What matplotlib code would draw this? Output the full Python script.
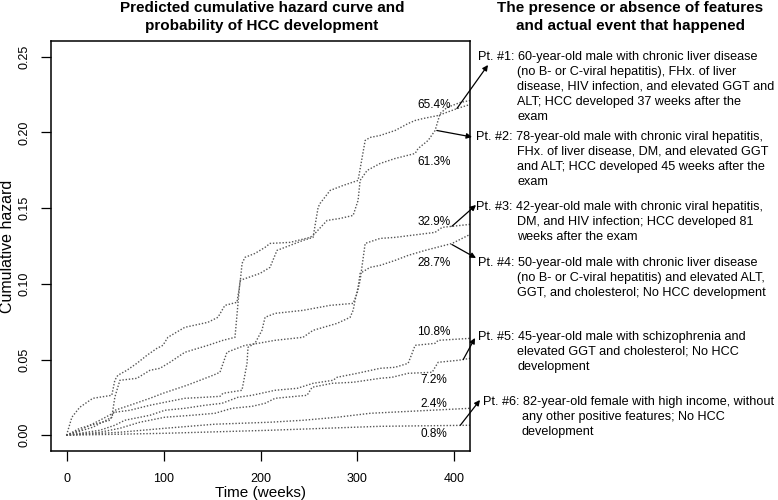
import numpy as np
import matplotlib.pyplot as plt

plt.rcParams['font.family'] = ['Liberation Sans', 'DejaVu Sans']

# predicted cumulative hazard per patient curve (weeks, hazard)
wk_a = [0, 27.1, 46.7, 49.8, 55, 72.5, 86, 96.3, 106.6, 122, 145.8, 161.3, 173.7, 178.9, 199.5, 209.8, 217,
        230.5, 243.9, 254.2, 259.4, 261.4, 271.8, 285.2, 300.6, 307.9, 313, 323.3, 338.8, 352.2, 359.4, 367.7,
        383.2, 402.8, 416.2]
hz_a = [0, 0.0053, 0.0119, 0.0251, 0.0363, 0.0376, 0.0429, 0.0442, 0.0482, 0.0548, 0.0594, 0.0627, 0.0647,
        0.1023, 0.1069, 0.1109, 0.1221, 0.1254, 0.1287, 0.1307, 0.1505, 0.1531, 0.1617, 0.165, 0.1683, 0.1947,
        0.1967, 0.198, 0.2013, 0.2059, 0.2079, 0.2092, 0.2112, 0.2158, 0.2185]

wk_b = [0, 5.5, 13.7, 27.1, 46.7, 49.8, 52.9, 62.2, 72.5, 82.9, 93.2, 99.4, 104.5, 122, 145.8, 156.1, 163.3,
        175.7, 178.9, 181, 184, 194.3, 204.7, 209.8, 230.5, 251.1, 254.2, 268.7, 282.1, 295.5, 300.6, 302.7,
        309.9, 323.3, 338.8, 359.4, 362.5, 372.8, 380, 385.2, 392.4, 405.9, 416.2]
hz_b = [0, 0.0119, 0.0185, 0.0244, 0.0264, 0.0363, 0.0396, 0.0429, 0.0475, 0.0528, 0.0574, 0.0594, 0.0647,
        0.0713, 0.0746, 0.0779, 0.0858, 0.0878, 0.1003, 0.1135, 0.1175, 0.1201, 0.1241, 0.1267, 0.1274, 0.1307,
        0.132, 0.1419, 0.1432, 0.1452, 0.1551, 0.1683, 0.1749, 0.1795, 0.1828, 0.1861, 0.1894, 0.1947, 0.2013,
        0.2125, 0.2165, 0.2198, 0.2211]

wk_c = [0, 13.7, 34.4, 49.8, 65.3, 86, 101.4, 122, 142.7, 158.2, 161.3, 180.9, 186.1, 187.1, 194.3, 201.5,
        204.7, 215, 243.9, 271.8, 295.5, 299.6, 302.7, 307.9, 323.3, 338.8, 380, 387.3, 416.2]
hz_c = [0, 0.0033, 0.0099, 0.0152, 0.0165, 0.0198, 0.0218, 0.0244, 0.0251, 0.0257, 0.0277, 0.0297, 0.0475,
        0.0581, 0.0607, 0.0693, 0.0779, 0.0805, 0.0825, 0.0858, 0.0871, 0.0937, 0.1023, 0.1267, 0.13, 0.1307,
        0.134, 0.1373, 0.1393]

wk_d = [0, 13.7, 29.2, 44.7, 49.8, 65.3, 86, 99.4, 124.1, 137.6, 151, 158.2, 165.4, 170.6, 184, 197.4, 215,
        243.9, 254.2, 279, 292.4, 295.5, 297.5, 300.6, 302.7, 313, 323.3, 338.8, 352.2, 369.7, 397.6, 416.2]
hz_d = [0, 0.0046, 0.0073, 0.0099, 0.0165, 0.0198, 0.0244, 0.0277, 0.033, 0.0363, 0.0396, 0.0416, 0.0548,
        0.0561, 0.0594, 0.0607, 0.0627, 0.0647, 0.0693, 0.0739, 0.0779, 0.0825, 0.0891, 0.0977, 0.1069, 0.1109,
        0.1122, 0.1155, 0.1188, 0.1221, 0.1267, 0.1327]

wk_e = [0, 34.4, 49.8, 60.1, 86, 101.4, 122, 142.7, 160.3, 176.8, 191.3, 215, 237.8, 254.2, 274.8, 279,
        299.6, 323.3, 338.8, 352.2, 356.3, 359.4, 380, 383.2, 416.2]
hz_e = [0, 0.0033, 0.0066, 0.0099, 0.0132, 0.0165, 0.0178, 0.0198, 0.0211, 0.0251, 0.0264, 0.0297, 0.031,
        0.0343, 0.0363, 0.0383, 0.0409, 0.0442, 0.0449, 0.0475, 0.0541, 0.0594, 0.0607, 0.0627, 0.064]

wk_f = [0, 34.4, 55, 75.6, 101.4, 129.3, 153, 170.6, 191.3, 204.7, 215, 248, 253.2, 273.8, 295.5, 323.3,
        335.7, 352.2, 377, 380, 383.2, 403.8, 416.2]
hz_f = [0, 0.002, 0.0046, 0.0086, 0.0119, 0.0132, 0.0145, 0.0178, 0.0191, 0.0211, 0.0244, 0.0264, 0.0317,
        0.0343, 0.035, 0.0376, 0.0383, 0.0409, 0.0416, 0.0449, 0.0482, 0.0495, 0.0508]

wk_g = [0, 55, 101.4, 153, 209.8, 243.9, 279, 313, 416.2]
hz_g = [0, 0.002, 0.0046, 0.0073, 0.0086, 0.0099, 0.0119, 0.0145, 0.0178]

wk_h = [0, 101.4, 209.8, 323.3, 416.2]
hz_h = [0, 0.0013, 0.0033, 0.0059, 0.0066]

curves = [(wk_a, hz_a), (wk_b, hz_b), (wk_c, hz_c), (wk_d, hz_d),
          (wk_e, hz_e), (wk_f, hz_f), (wk_g, hz_g), (wk_h, hz_h)]

pct_labels = ['65.4%', '61.3%', '32.9%', '28.7%', '10.8%', '7.2%', '2.4%', '0.8%']
pct_y = [0.2178, 0.1804, 0.1408, 0.1135, 0.0682, 0.0363, 0.0205, 0.0007]

pt_text = [
    ["Pt. #1: 60-year-old male with chronic liver disease",
     "(no B- or C-viral hepatitis), FHx. of liver",
     "disease, HIV infection, and elevated GGT and",
     "ALT; HCC developed 37 weeks after the",
     "exam"],
    ["Pt. #2: 78-year-old male with chronic viral hepatitis,",
     "FHx. of liver disease, DM, and elevated GGT",
     "and ALT; HCC developed 45 weeks after the",
     "exam"],
    ["Pt. #3: 42-year-old male with chronic viral hepatitis,",
     "DM, and HIV infection; HCC developed 81",
     "weeks after the exam"],
    ["Pt. #4: 50-year-old male with chronic liver disease",
     "(no B- or C-viral hepatitis) and elevated ALT,",
     "GGT, and cholesterol; No HCC development"],
    ["Pt. #5: 45-year-old male with schizophrenia and",
     "elevated GGT and cholesterol; No HCC",
     "development"],
    ["Pt. #6: 82-year-old female with high income, without",
     "any other positive features; No HCC",
     "development"],
]
# where each arrow leaves its curve (weeks, hazard)
arrow_wk = [402.5, 381.8, 397.3, 397.3, 409, 406]
arrow_hz = [0.2158, 0.2013, 0.138, 0.126, 0.050, 0.0066]

W, H = 778, 500
fig = plt.figure(figsize=(W / 100, H / 100), dpi=100)
ax = fig.add_axes([51 / W, 1 - 451 / H, 419 / W, 410 / H])

for wk, hz in curves:
    ax.plot(wk, hz, color='#555555', lw=1.0, ls=(0, (1, 1.3)))

ax.set_xlim(-16, 416)
ax.set_ylim(-0.0104, 0.2604)
ax.set_xticks([0, 100, 200, 300, 400])
ax.set_yticks([0, 0.05, 0.10, 0.15, 0.20, 0.25])
ax.set_yticklabels(['0.00', '0.05', '0.10', '0.15', '0.20', '0.25'], rotation=90, va='center')
ax.tick_params(direction='out', length=7.5, width=0.9, labelsize=9)
ax.tick_params(axis='x', pad=8)
ax.tick_params(axis='y', pad=7)
for s in ax.spines.values():
    s.set_linewidth(1.1)
ax.set_xlabel('Time (weeks)', fontsize=11, labelpad=1)
ax.set_ylabel('Cumulative hazard', fontsize=11.5, labelpad=3)

for lab, y in zip(pct_labels, pct_y):
    ax.text(379, y, lab, ha='center', va='center', fontsize=8.5)

fig.text(262 / W, 1 - 17 / H, 'Predicted cumulative hazard curve and\nprobability of HCC development',
         ha='center', va='center', fontsize=11, fontweight='bold', linespacing=1.4)
fig.text(630 / W, 1 - 17 / H, 'The presence or absence of features\nand actual event that happened',
         ha='center', va='center', fontsize=11, fontweight='bold', linespacing=1.4)

# text blocks: (x of first line, x of indent, y of first line, arrow head)
first_x = [478, 476, 476, 478, 478, 483]
indent_x = [517, 517, 517, 517, 517, 522]
first_y = [57, 137, 207, 263, 337, 402]
heads = [(488, 65), (472, 137), (476, 205), (476, 258), (475, 338), (480, 400)]

for i, lines in enumerate(pt_text):
    for j, ln in enumerate(lines):
        x = first_x[i] if j == 0 else indent_x[i]
        fig.text(x / W, 1 - (first_y[i] + 15 * j) / H, ln, ha='left', va='center', fontsize=9.1)
    hx, hy = heads[i]
    ax.annotate('', xy=(hx / W, 1 - hy / H), xycoords='figure fraction',
                xytext=(arrow_wk[i], arrow_hz[i]), textcoords='data',
                arrowprops=dict(arrowstyle='-|>', color='black', lw=0.9, mutation_scale=8,
                                shrinkA=0, shrinkB=0),
                annotation_clip=False)

fig.savefig('out.png', dpi=100)
